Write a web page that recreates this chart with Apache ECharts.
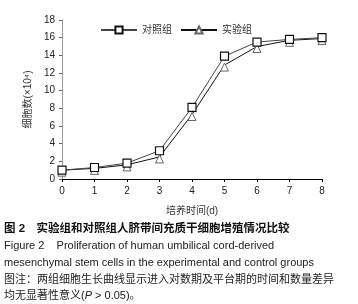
<!DOCTYPE html>
<html>
<head>
<meta charset="utf-8">
<script src="https://cdn.jsdelivr.net/npm/echarts@6/dist/echarts.min.js"></script>
<style>
  html, body { margin: 0; padding: 0; background: #fff; }
  #chart { width: 358px; height: 304px; }
</style>
</head>
<body>
<div id="chart"></div>
<script>
  // 培养天数 / cell counts (x10^4)
  const days = [0, 1, 2, 3, 4, 5, 6, 7, 8]
  const control = [1.0, 1.3, 1.8, 3.2, 8.1, 13.9, 15.5, 15.8, 16.0]
  const experiment = [1.0, 1.2, 1.6, 2.5, 7.3, 12.9, 15.0, 15.7, 15.9]
  const yTicks = [0, 2, 4, 6, 8, 10, 12, 14, 16, 18]

  const font = '"Liberation Sans", "Noto Sans CJK SC", sans-serif'
  const chart = echarts.init(document.getElementById('chart'))

  const pairs = arr => days.map((d, i) => [d, arr[i]])

  const options = {
    animation: false,
    textStyle: { fontFamily: font },
    grid: { left: 62, right: 36, top: 20, bottom: 125 },
    legend: {
      top: 20,
      left: 95,
      itemWidth: 36,
      itemHeight: 9,
      itemGap: 8,
      textStyle: { fontSize: 10, color: '#333', fontFamily: font },
      data: ['对照组', '实验组']
    },
    xAxis: {
      type: 'value',
      min: 0,
      max: 8,
      interval: 1,
      name: '培养时间(d)',
      nameLocation: 'middle',
      nameGap: 27,
      nameTextStyle: { fontSize: 10, color: '#333' },
      axisLine: { lineStyle: { color: '#000', width: 1 } },
      axisTick: { show: true, length: 3, lineStyle: { color: '#000' } },
      axisLabel: { fontSize: 10, color: '#222', margin: 7 },
      splitLine: { show: false }
    },
    yAxis: {
      type: 'value',
      min: yTicks[0],
      max: yTicks[yTicks.length - 1],
      interval: 2,
      name: '细胞数(×10⁴)',
      nameLocation: 'middle',
      nameGap: 29,
      nameTextStyle: { fontSize: 10, color: '#333' },
      axisLine: { show: true, lineStyle: { color: '#999', width: 1 } },
      axisTick: { show: true, length: 3, lineStyle: { color: '#666' } },
      axisLabel: { fontSize: 10, color: '#222', margin: 7 },
      splitLine: { show: false }
    },
    series: [{
      name: '对照组',
      type: 'line',
      data: pairs(control),
      symbol: 'rect',
      symbolSize: 8,
      itemStyle: { color: '#fff', borderColor: '#111', borderWidth: 1.2 },
      lineStyle: { color: '#444', width: 1 },
      z: 3
    }, {
      name: '实验组',
      type: 'line',
      data: pairs(experiment),
      symbol: 'triangle',
      symbolSize: 8,
      symbolOffset: [0, 2],
      itemStyle: { color: '#fff', borderColor: '#666', borderWidth: 1 },
      lineStyle: { color: '#111', width: 1 },
      z: 2
    }],
    graphic: [{
      type: 'text', left: 4, top: 223,
      style: { text: '图 2　实验组和对照组人脐带间充质干细胞增殖情况比较', font: 'bold 11.5px ' + font, fill: '#111' }
    }, {
      type: 'text', left: 4, top: 240,
      style: { text: 'Figure 2    Proliferation of human umbilical cord-derived', font: '11px ' + font, fill: '#222' }
    }, {
      type: 'text', left: 4, top: 257,
      style: { text: 'mesenchymal stem cells in the experimental and control groups', font: '11px ' + font, fill: '#222' }
    }, {
      type: 'text', left: 4, top: 274,
      style: { text: '图注：两组细胞生长曲线显示进入对数期及平台期的时间和数量差异', font: '11px ' + font, fill: '#222' }
    }, {
      type: 'text', left: 4, top: 290,
      style: {
        text: '均无显著性意义({i|P} > 0.05)。',
        font: '11px ' + font, fill: '#222',
        rich: { i: { fontStyle: 'italic', fontSize: 11, fontFamily: font, fill: '#222' } }
      }
    }]
  }

  chart.setOption(options, true)
</script>
</body>
</html>
